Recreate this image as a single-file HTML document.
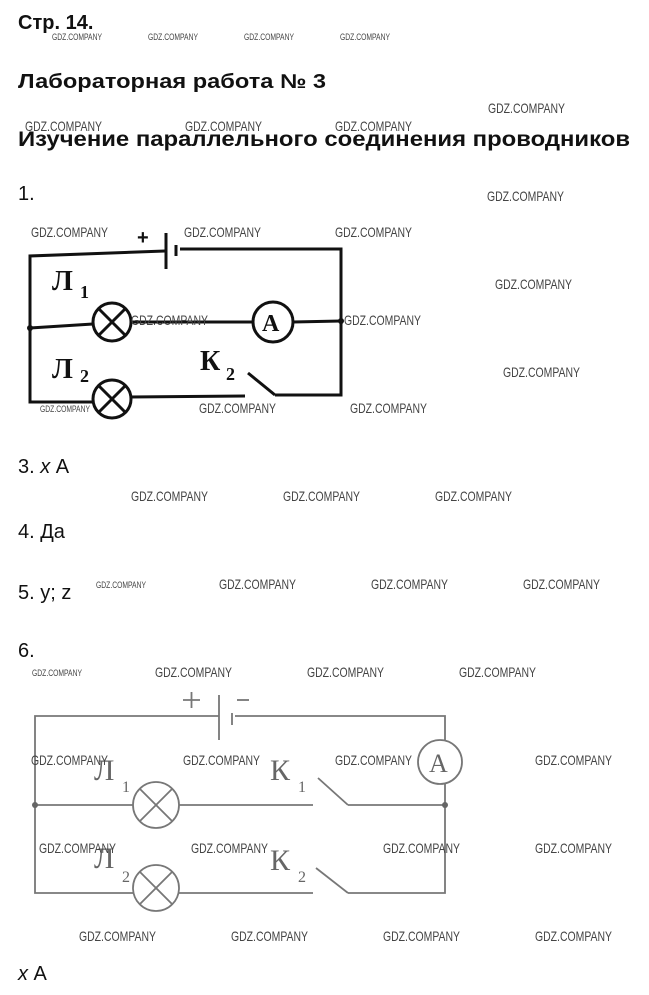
<!DOCTYPE html>
<html><head><meta charset="utf-8"><style>
html,body{margin:0;padding:0;background:#fff;}
svg{display:block;}
.h{font-family:"Liberation Sans",sans-serif;font-weight:bold;fill:#111;}
.t{font-family:"Liberation Sans",sans-serif;fill:#111;font-size:20px;}
.w{font-family:"Liberation Sans",sans-serif;fill:#444;font-size:14px;}
.ws{font-family:"Liberation Sans",sans-serif;fill:#444;font-size:9px;}
.s1{font-family:"Liberation Serif",serif;font-weight:bold;fill:#111;}
.s2{font-family:"Liberation Serif",serif;fill:#666;}
</style></head><body>
<svg width="649" height="995" viewBox="0 0 649 995" xmlns="http://www.w3.org/2000/svg">
<rect width="649" height="995" fill="#fff"/>
<text class="h" x="18" y="29" font-size="20">Стр. 14.</text>
<text class="h" x="18" y="88" font-size="20" textLength="308" lengthAdjust="spacingAndGlyphs">Лабораторная работа № 3</text>
<text class="h" x="18" y="146" font-size="21" textLength="612" lengthAdjust="spacingAndGlyphs">Изучение параллельного соединения проводников</text>
<text class="t" x="18" y="200">1.</text>
<text class="t" x="18" y="473">3.  <tspan font-style="italic">x</tspan> А</text>
<text class="t" x="18" y="538">4. Да</text>
<text class="t" x="18" y="599">5. y; z</text>
<text class="t" x="18" y="657">6.</text>
<text class="t" x="18" y="980"><tspan font-style="italic">x</tspan> А</text>

<!-- circuit 1 -->
<g stroke="#111" stroke-width="3" fill="none">
<polyline points="165,251 30,256 30,402 94,402"/>
<line x1="166" y1="233" x2="166" y2="269"/>
<line x1="176" y1="245" x2="176" y2="256"/>
<polyline points="180,249 341,249 341,395 275,395"/>
<line x1="248" y1="373" x2="275" y2="395"/>
<line x1="130" y1="397" x2="245" y2="396"/>
<line x1="30" y1="328" x2="93" y2="324"/>
<line x1="131" y1="322" x2="253" y2="322"/>
<line x1="293" y1="322" x2="341" y2="321"/>
<circle cx="112" cy="322" r="19"/>
<line x1="99" y1="309" x2="125" y2="335"/><line x1="125" y1="309" x2="99" y2="335"/>
<circle cx="112" cy="399" r="19"/>
<line x1="99" y1="386" x2="125" y2="412"/><line x1="125" y1="386" x2="99" y2="412"/>
<circle cx="273" cy="322" r="20"/>
</g>
<circle cx="30" cy="328" r="3" fill="#111"/><circle cx="341" cy="321" r="3" fill="#111"/>
<text class="h" x="137" y="244" font-size="20">+</text>
<text class="s1" x="262" y="331" font-size="24">A</text>
<text class="s1" x="52" y="290" font-size="28">Л</text><text class="s1" x="80" y="298" font-size="18">1</text>
<text class="s1" x="52" y="378" font-size="28">Л</text><text class="s1" x="80" y="382" font-size="18">2</text>
<text class="s1" x="200" y="370" font-size="28">К</text><text class="s1" x="226" y="380" font-size="18">2</text>

<!-- circuit 2 -->
<g stroke="#777" stroke-width="1.8" fill="none">
<polyline points="219,716 35,716 35,893 133,893"/>
<line x1="219" y1="695" x2="219" y2="740"/>
<line x1="232" y1="713" x2="232" y2="725"/>
<polyline points="235,716 445,716 445,740"/>
<polyline points="445,784 445,893 348,893"/>
<line x1="316" y1="868" x2="348" y2="893"/>
<line x1="179" y1="893" x2="313" y2="893"/>
<line x1="35" y1="805" x2="133" y2="805"/>
<line x1="179" y1="805" x2="313" y2="805"/>
<line x1="318" y1="778" x2="348" y2="805"/>
<line x1="348" y1="805" x2="445" y2="805"/>
<circle cx="156" cy="805" r="23"/>
<line x1="140" y1="789" x2="172" y2="821"/><line x1="172" y1="789" x2="140" y2="821"/>
<circle cx="156" cy="888" r="23"/>
<line x1="140" y1="872" x2="172" y2="904"/><line x1="172" y1="872" x2="140" y2="904"/>
<circle cx="440" cy="762" r="22"/>
<line x1="183" y1="700" x2="200" y2="700"/><line x1="191.5" y1="692" x2="191.5" y2="708"/>
<line x1="237" y1="700" x2="249" y2="700"/>
</g>
<circle cx="35" cy="805" r="3" fill="#666"/><circle cx="445" cy="805" r="3" fill="#666"/>
<text class="s2" x="429" y="772" font-size="26">A</text>
<text class="s2" x="94" y="780" font-size="30">Л</text><text class="s2" x="122" y="792" font-size="16">1</text>
<text class="s2" x="94" y="868" font-size="30">Л</text><text class="s2" x="122" y="882" font-size="16">2</text>
<text class="s2" x="270" y="780" font-size="30">К</text><text class="s2" x="298" y="792" font-size="16">1</text>
<text class="s2" x="270" y="870" font-size="30">К</text><text class="s2" x="298" y="882" font-size="16">2</text>

<!-- watermarks -->
<g class="w">
<text class="w" x="488" y="113" textLength="77" lengthAdjust="spacingAndGlyphs">GDZ.COMPANY</text>
<text class="w" x="25" y="131" textLength="77" lengthAdjust="spacingAndGlyphs">GDZ.COMPANY</text>
<text class="w" x="185" y="131" textLength="77" lengthAdjust="spacingAndGlyphs">GDZ.COMPANY</text>
<text class="w" x="335" y="131" textLength="77" lengthAdjust="spacingAndGlyphs">GDZ.COMPANY</text>
<text class="w" x="487" y="201" textLength="77" lengthAdjust="spacingAndGlyphs">GDZ.COMPANY</text>
<text class="w" x="31" y="237" textLength="77" lengthAdjust="spacingAndGlyphs">GDZ.COMPANY</text>
<text class="w" x="184" y="237" textLength="77" lengthAdjust="spacingAndGlyphs">GDZ.COMPANY</text>
<text class="w" x="335" y="237" textLength="77" lengthAdjust="spacingAndGlyphs">GDZ.COMPANY</text>
<text class="w" x="495" y="289" textLength="77" lengthAdjust="spacingAndGlyphs">GDZ.COMPANY</text>
<text class="w" x="131" y="325" textLength="77" lengthAdjust="spacingAndGlyphs">GDZ.COMPANY</text>
<text class="w" x="344" y="325" textLength="77" lengthAdjust="spacingAndGlyphs">GDZ.COMPANY</text>
<text class="w" x="503" y="377" textLength="77" lengthAdjust="spacingAndGlyphs">GDZ.COMPANY</text>
<text class="w" x="199" y="413" textLength="77" lengthAdjust="spacingAndGlyphs">GDZ.COMPANY</text>
<text class="w" x="350" y="413" textLength="77" lengthAdjust="spacingAndGlyphs">GDZ.COMPANY</text>
<text class="w" x="131" y="501" textLength="77" lengthAdjust="spacingAndGlyphs">GDZ.COMPANY</text>
<text class="w" x="283" y="501" textLength="77" lengthAdjust="spacingAndGlyphs">GDZ.COMPANY</text>
<text class="w" x="435" y="501" textLength="77" lengthAdjust="spacingAndGlyphs">GDZ.COMPANY</text>
<text class="w" x="219" y="589" textLength="77" lengthAdjust="spacingAndGlyphs">GDZ.COMPANY</text>
<text class="w" x="371" y="589" textLength="77" lengthAdjust="spacingAndGlyphs">GDZ.COMPANY</text>
<text class="w" x="523" y="589" textLength="77" lengthAdjust="spacingAndGlyphs">GDZ.COMPANY</text>
<text class="w" x="155" y="677" textLength="77" lengthAdjust="spacingAndGlyphs">GDZ.COMPANY</text>
<text class="w" x="307" y="677" textLength="77" lengthAdjust="spacingAndGlyphs">GDZ.COMPANY</text>
<text class="w" x="459" y="677" textLength="77" lengthAdjust="spacingAndGlyphs">GDZ.COMPANY</text>
<text class="w" x="31" y="765" textLength="77" lengthAdjust="spacingAndGlyphs">GDZ.COMPANY</text>
<text class="w" x="183" y="765" textLength="77" lengthAdjust="spacingAndGlyphs">GDZ.COMPANY</text>
<text class="w" x="335" y="765" textLength="77" lengthAdjust="spacingAndGlyphs">GDZ.COMPANY</text>
<text class="w" x="535" y="765" textLength="77" lengthAdjust="spacingAndGlyphs">GDZ.COMPANY</text>
<text class="w" x="39" y="853" textLength="77" lengthAdjust="spacingAndGlyphs">GDZ.COMPANY</text>
<text class="w" x="191" y="853" textLength="77" lengthAdjust="spacingAndGlyphs">GDZ.COMPANY</text>
<text class="w" x="383" y="853" textLength="77" lengthAdjust="spacingAndGlyphs">GDZ.COMPANY</text>
<text class="w" x="535" y="853" textLength="77" lengthAdjust="spacingAndGlyphs">GDZ.COMPANY</text>
<text class="w" x="79" y="941" textLength="77" lengthAdjust="spacingAndGlyphs">GDZ.COMPANY</text>
<text class="w" x="231" y="941" textLength="77" lengthAdjust="spacingAndGlyphs">GDZ.COMPANY</text>
<text class="w" x="383" y="941" textLength="77" lengthAdjust="spacingAndGlyphs">GDZ.COMPANY</text>
<text class="w" x="535" y="941" textLength="77" lengthAdjust="spacingAndGlyphs">GDZ.COMPANY</text>
</g>
<text class="ws" x="52" y="40" textLength="50" lengthAdjust="spacingAndGlyphs">GDZ.COMPANY</text>
<text class="ws" x="148" y="40" textLength="50" lengthAdjust="spacingAndGlyphs">GDZ.COMPANY</text>
<text class="ws" x="244" y="40" textLength="50" lengthAdjust="spacingAndGlyphs">GDZ.COMPANY</text>
<text class="ws" x="340" y="40" textLength="50" lengthAdjust="spacingAndGlyphs">GDZ.COMPANY</text>
<text class="ws" x="40" y="412" textLength="50" lengthAdjust="spacingAndGlyphs">GDZ.COMPANY</text>
<text class="ws" x="96" y="588" textLength="50" lengthAdjust="spacingAndGlyphs">GDZ.COMPANY</text>
<text class="ws" x="32" y="676" textLength="50" lengthAdjust="spacingAndGlyphs">GDZ.COMPANY</text>
</svg>
</body></html>
